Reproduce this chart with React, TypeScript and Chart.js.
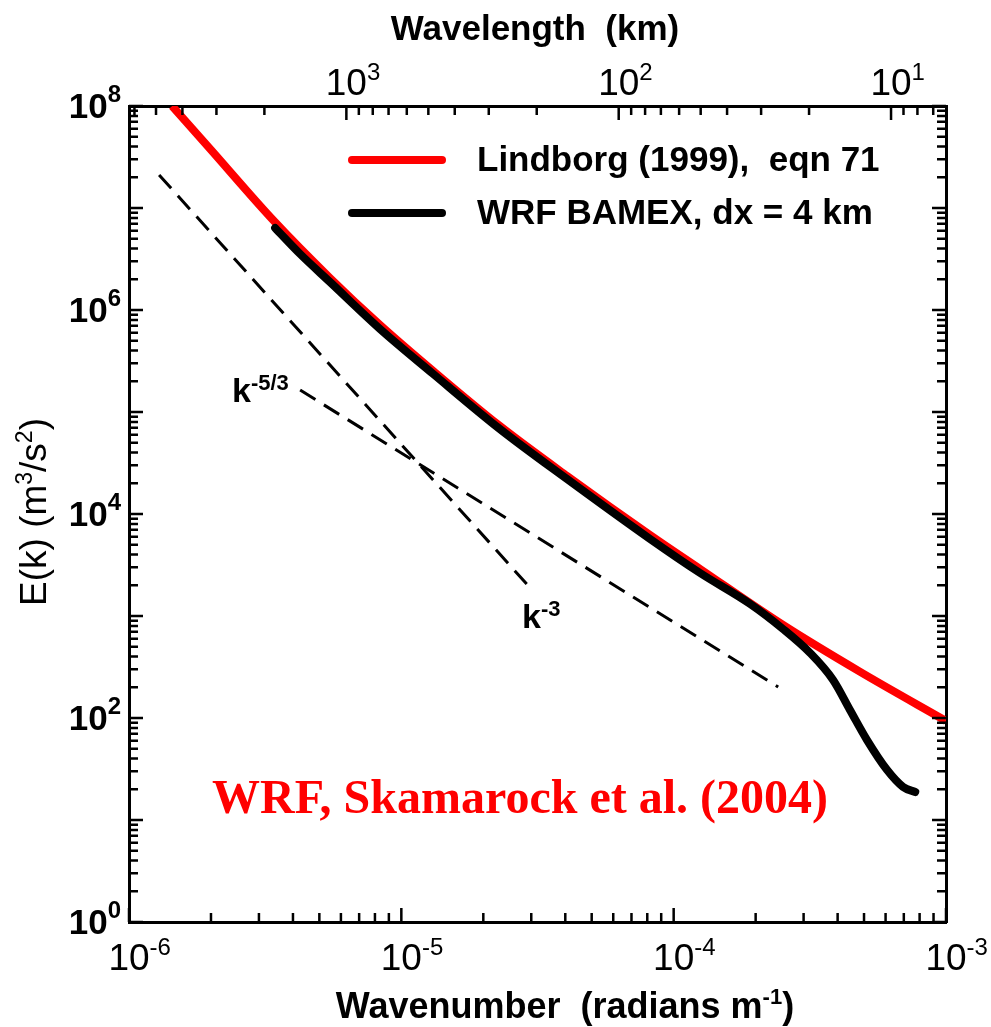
import React, { useEffect, useRef } from 'react';
import { Chart, registerables } from 'chart.js';

Chart.register(...registerables);

// ---- data ----
const lindborgK = [1.44e-6, 2.0e-6, 3.38e-6, 5.47e-6, 8.35e-6, 1.31e-5, 2.3e-5, 4.06e-5, 8.19e-5, 1.25e-4, 2.52e-4, 4.84e-4, 1.0e-3];
const lindborgE = [1.0e8, 3.71e7, 7.62e6, 2.06e6, 7.13e5, 2.52e5, 7.29e4, 2.36e4, 6.22e3, 2.89e3, 817, 283, 93.5];

const wrfK = [3.44e-6, 4.25e-6, 5.47e-6, 8.35e-6, 1.31e-5, 2.3e-5, 4.06e-5, 8.19e-5, 1.25e-4, 1.91e-4, 2.52e-4, 3.17e-4, 3.85e-4, 4.44e-4, 5.13e-4, 6.08e-4, 6.96e-4, 7.71e-4];
const wrfE = [6.37e6, 3.54e6, 1.88e6, 6.52e5, 2.36e5, 6.81e4, 2.2e4, 5.69e3, 2.64e3, 1.31e3, 746, 434, 236, 120, 60.8, 30.9, 21.1, 18.8];

const slope3K = [1.29e-6, 3.02e-5];
const slope3E = [2.11e7, 1.8e3];
const slope53K = [4.25e-6, 2.42e-4];
const slope53E = [1.64e5, 201];

const seriesLabels = ['Lindborg (1999),  eqn 71', 'WRF BAMEX, dx = 4 km'];

// tick labels
const xTickExps = [-6, -5, -4, -3];
const yTickExps = [0, 2, 4, 6, 8];
const topTickExps = [3, 2, 1];
const minorMultipliers = [1, 2, 3, 4, 5, 6, 7, 8, 9];
const xDecades = [-6, -5, -4];
const yDecades = [0, 1, 2, 3, 4, 5, 6, 7];
const lambdaDecades = [0, 1, 2, 3];

const xMin = 1e-6;
const xMax = 1e-3;
const yMin = 1;
const yMax = 1e8;
// wavelength (km) = 2*pi / k / 1000
const lambdaOf = (k: number) => (2 * Math.PI) / k / 1000;

const SANS = '"Liberation Sans", Arial, Helvetica, sans-serif';
const SERIF = '"Liberation Serif", "Times New Roman", Times, serif';

type Seg = { t: string; f: string; dy?: number };
function segsWidth(ctx: CanvasRenderingContext2D, segs: Seg[]) {
  let w = 0;
  for (const s of segs) {
    ctx.font = s.f;
    w += ctx.measureText(s.t).width;
  }
  return w;
}
function drawSegs(ctx: CanvasRenderingContext2D, segs: Seg[], x: number, y: number) {
  let cx = x;
  for (const s of segs) {
    ctx.font = s.f;
    ctx.fillText(s.t, cx, y + (s.dy || 0));
    cx += ctx.measureText(s.t).width;
  }
}

const isPow10 = (v: number) => Math.abs(Math.log10(v) - Math.round(Math.log10(v))) < 1e-6;

const decorPlugin = {
  id: 'decor',
  afterDatasetsDraw(chart: any) {
    const ctx: CanvasRenderingContext2D = chart.ctx;
    const { left, right, top, bottom } = chart.chartArea;
    const sx = chart.scales.x;
    const sxt = chart.scales.xTop;
    const sy = chart.scales.y;
    ctx.save();
    ctx.strokeStyle = '#000';
    ctx.fillStyle = '#000';
    ctx.lineWidth = 2.5;
    ctx.lineCap = 'butt';

    // inward ticks
    ctx.beginPath();
    for (const t of sx.ticks) {
      const p = sx.getPixelForValue(t.value);
      const len = isPow10(t.value) ? 14 : 9;
      ctx.moveTo(p, bottom);
      ctx.lineTo(p, bottom - len);
    }
    for (const t of sxt.ticks) {
      const p = sxt.getPixelForValue(t.value);
      const len = isPow10(t.value) ? 14 : 9;
      ctx.moveTo(p, top);
      ctx.lineTo(p, top + len);
    }
    for (const t of sy.ticks) {
      const p = sy.getPixelForValue(t.value);
      const len = isPow10(t.value) ? 14 : 9;
      ctx.moveTo(left, p);
      ctx.lineTo(left + len, p);
      ctx.moveTo(right, p);
      ctx.lineTo(right - len, p);
    }
    ctx.stroke();

    ctx.textAlign = 'left';
    ctx.textBaseline = 'alphabetic';

    // y tick labels
    for (const e of yTickExps) {
      const p = sy.getPixelForValue(Math.pow(10, e));
      const segs: Seg[] = [
        { t: '10', f: `bold 35px ${SANS}` },
        { t: String(e), f: `bold 24px ${SANS}`, dy: -16 },
      ];
      const w = segsWidth(ctx, segs);
      drawSegs(ctx, segs, 121 - w, p + 12);
    }
    // bottom tick labels
    for (const e of xTickExps) {
      const p = sx.getPixelForValue(Math.pow(10, e));
      ctx.font = `37px ${SANS}`;
      const w0 = ctx.measureText('10').width;
      drawSegs(ctx, [
        { t: '10', f: `37px ${SANS}` },
        { t: String(e), f: `24px ${SANS}`, dy: -15 },
      ], p - w0 / 2, 970);
    }
    // top tick labels
    for (const e of topTickExps) {
      const p = sxt.getPixelForValue(Math.pow(10, e));
      ctx.font = `37px ${SANS}`;
      const w0 = ctx.measureText('10').width;
      drawSegs(ctx, [
        { t: '10', f: `37px ${SANS}` },
        { t: String(e), f: `24px ${SANS}`, dy: -15 },
      ], p - w0 / 2, 95);
    }

    // axis titles
    ctx.textAlign = 'center';
    ctx.font = `bold 35px ${SANS}`;
    ctx.fillText('Wavelength  (km)', 535, 40);

    const bt: Seg[] = [
      { t: 'Wavenumber  (radians m', f: `bold 36px ${SANS}` },
      { t: '-1', f: `bold 22px ${SANS}`, dy: -14 },
      { t: ')', f: `bold 36px ${SANS}` },
    ];
    ctx.textAlign = 'left';
    const bw = segsWidth(ctx, bt);
    drawSegs(ctx, bt, 565 - bw / 2, 1018);

    const yt: Seg[] = [
      { t: 'E(k) (m', f: `37px ${SANS}` },
      { t: '3', f: `23px ${SANS}`, dy: -14 },
      { t: '/s', f: `37px ${SANS}` },
      { t: '2', f: `23px ${SANS}`, dy: -14 },
      { t: ')', f: `37px ${SANS}` },
    ];
    ctx.save();
    ctx.translate(46, 512);
    ctx.rotate(-Math.PI / 2);
    const yw = segsWidth(ctx, yt);
    drawSegs(ctx, yt, -yw / 2, 0);
    ctx.restore();

    // legend
    const legendY = [160, 213];
    chart.data.datasets.slice(0, 2).forEach((ds: any, i: number) => {
      ctx.beginPath();
      ctx.lineWidth = 8;
      ctx.lineCap = 'round';
      ctx.strokeStyle = ds.borderColor;
      ctx.moveTo(352, legendY[i]);
      ctx.lineTo(442, legendY[i]);
      ctx.stroke();
      ctx.fillStyle = '#000';
      ctx.font = `bold 35px ${SANS}`;
      ctx.textBaseline = 'middle';
      ctx.fillText(ds.label, 477, legendY[i] + 1);
    });
    ctx.textBaseline = 'alphabetic';

    // slope labels
    ctx.fillStyle = '#000';
    drawSegs(ctx, [
      { t: 'k', f: `bold 34px ${SANS}` },
      { t: '-5/3', f: `bold 22px ${SANS}`, dy: -12 },
    ], 232, 402);
    drawSegs(ctx, [
      { t: 'k', f: `bold 34px ${SANS}` },
      { t: '-3', f: `bold 22px ${SANS}`, dy: -12 },
    ], 522, 628);

    // annotation
    ctx.fillStyle = '#ff0000';
    ctx.font = `bold 48px ${SERIF}`;
    ctx.fillText('WRF, Skamarock et al. (2004)', 212, 813);

    ctx.restore();
  },
};

const toPts = (xs: number[], ys: number[]) => xs.map((x, i) => ({ x, y: ys[i] }));

export default function App() {
  const ref = useRef<HTMLCanvasElement | null>(null);
  useEffect(() => {
    document.body.style.margin = '0';
    if (!ref.current) return;
    const xTicks: number[] = [];
    for (const d of xDecades) for (const m of minorMultipliers) xTicks.push(m * Math.pow(10, d));
    xTicks.push(xMax);
    const yTicks: number[] = [];
    for (const d of yDecades) for (const m of minorMultipliers) yTicks.push(m * Math.pow(10, d));
    yTicks.push(yMax);
    const lamMin = lambdaOf(xMax);
    const lamMax = lambdaOf(xMin);
    const lamTicks: number[] = [];
    for (const d of lambdaDecades) for (const m of minorMultipliers) {
      const v = m * Math.pow(10, d);
      if (v >= lamMin && v <= lamMax) lamTicks.push(v);
    }

    const common = {
      grid: { display: false, drawTicks: false },
      border: { display: true, width: 3, color: '#000' },
      ticks: { display: false },
    };

    const chart = new Chart(ref.current, {
      type: 'line',
      data: {
        datasets: [
          {
            label: seriesLabels[0],
            data: toPts(lindborgK, lindborgE),
            borderColor: '#ff0000',
            borderWidth: 8,
            pointRadius: 0,
            cubicInterpolationMode: 'monotone',
            borderCapStyle: 'butt',
            order: 2,
            clip: 0,
          },
          {
            label: seriesLabels[1],
            data: toPts(wrfK, wrfE),
            borderColor: '#000000',
            borderWidth: 8,
            pointRadius: 0,
            cubicInterpolationMode: 'monotone',
            borderCapStyle: 'round',
            borderJoinStyle: 'round',
            order: 1,
          },
          {
            label: 'k^-3',
            data: toPts(slope3K, slope3E),
            borderColor: '#000000',
            borderWidth: 3,
            borderDash: [18, 10],
            pointRadius: 0,
            order: 3,
          },
          {
            label: 'k^-5/3',
            data: toPts(slope53K, slope53E),
            borderColor: '#000000',
            borderWidth: 3,
            borderDash: [18, 10],
            pointRadius: 0,
            order: 3,
          },
        ],
      } as any,
      options: {
        animation: false,
        responsive: true,
        maintainAspectRatio: false,
        layout: { padding: 0 },
        plugins: { legend: { display: false }, tooltip: { enabled: false } },
        scales: {
          x: {
            ...common,
            type: 'logarithmic',
            position: 'bottom',
            min: xMin,
            max: xMax,
            afterBuildTicks: (s: any) => { s.ticks = xTicks.map((v) => ({ value: v })); },
            afterFit: (s: any) => { s.height = 105; },
          },
          xTop: {
            ...common,
            type: 'logarithmic',
            position: 'top',
            reverse: true,
            min: lamMin,
            max: lamMax,
            afterBuildTicks: (s: any) => { s.ticks = lamTicks.map((v) => ({ value: v })); },
            afterFit: (s: any) => { s.height = 106; },
          },
          y: {
            ...common,
            type: 'logarithmic',
            position: 'left',
            min: yMin,
            max: yMax,
            afterBuildTicks: (s: any) => { s.ticks = yTicks.map((v) => ({ value: v })); },
            afterFit: (s: any) => { s.width = 129; },
          },
          yRight: {
            ...common,
            type: 'logarithmic',
            position: 'right',
            min: yMin,
            max: yMax,
            afterBuildTicks: (s: any) => { s.ticks = yTicks.map((v) => ({ value: v })); },
            afterFit: (s: any) => { s.width = 45; },
          },
        },
      } as any,
      plugins: [decorPlugin],
    });
    return () => chart.destroy();
  }, []);
  return (
    <div style={{ position: 'relative', width: 991, height: 1027 }}>
      <canvas ref={ref} />
    </div>
  );
}
